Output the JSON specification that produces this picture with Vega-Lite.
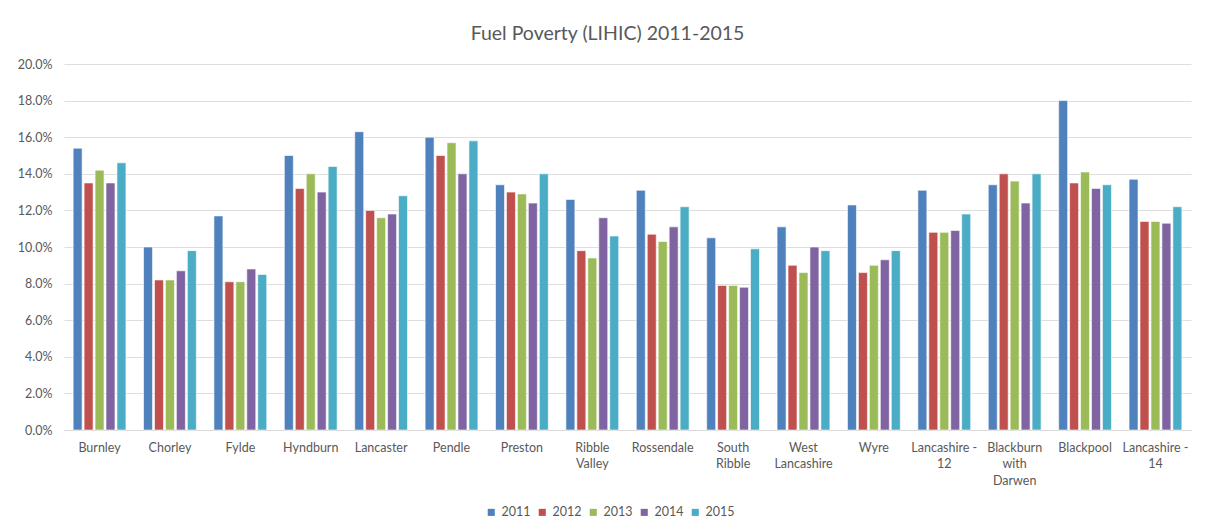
{
  "$schema": "https://vega.github.io/schema/vega-lite/v6.json",
  "autosize": "none",
  "width": 1127,
  "height": 366,
  "padding": {"left": 64, "top": 64, "right": 16, "bottom": 99},
  "background": "white",
  "title": {
    "text": "Fuel Poverty (LIHIC) 2011-2015",
    "font": "Lato",
    "fontSize": 19.5,
    "fontWeight": "normal",
    "color": "#595959",
    "anchor": "middle",
    "dx": -20,
    "offset": 14
  },
  "data": {
    "values": [
      {"area": "Burnley", "year": "2011", "rate": 0.154},
      {"area": "Burnley", "year": "2012", "rate": 0.135},
      {"area": "Burnley", "year": "2013", "rate": 0.142},
      {"area": "Burnley", "year": "2014", "rate": 0.135},
      {"area": "Burnley", "year": "2015", "rate": 0.146},
      {"area": "Chorley", "year": "2011", "rate": 0.100},
      {"area": "Chorley", "year": "2012", "rate": 0.082},
      {"area": "Chorley", "year": "2013", "rate": 0.082},
      {"area": "Chorley", "year": "2014", "rate": 0.087},
      {"area": "Chorley", "year": "2015", "rate": 0.098},
      {"area": "Fylde", "year": "2011", "rate": 0.117},
      {"area": "Fylde", "year": "2012", "rate": 0.081},
      {"area": "Fylde", "year": "2013", "rate": 0.081},
      {"area": "Fylde", "year": "2014", "rate": 0.088},
      {"area": "Fylde", "year": "2015", "rate": 0.085},
      {"area": "Hyndburn", "year": "2011", "rate": 0.150},
      {"area": "Hyndburn", "year": "2012", "rate": 0.132},
      {"area": "Hyndburn", "year": "2013", "rate": 0.140},
      {"area": "Hyndburn", "year": "2014", "rate": 0.130},
      {"area": "Hyndburn", "year": "2015", "rate": 0.144},
      {"area": "Lancaster", "year": "2011", "rate": 0.163},
      {"area": "Lancaster", "year": "2012", "rate": 0.120},
      {"area": "Lancaster", "year": "2013", "rate": 0.116},
      {"area": "Lancaster", "year": "2014", "rate": 0.118},
      {"area": "Lancaster", "year": "2015", "rate": 0.128},
      {"area": "Pendle", "year": "2011", "rate": 0.160},
      {"area": "Pendle", "year": "2012", "rate": 0.150},
      {"area": "Pendle", "year": "2013", "rate": 0.157},
      {"area": "Pendle", "year": "2014", "rate": 0.140},
      {"area": "Pendle", "year": "2015", "rate": 0.158},
      {"area": "Preston", "year": "2011", "rate": 0.134},
      {"area": "Preston", "year": "2012", "rate": 0.130},
      {"area": "Preston", "year": "2013", "rate": 0.129},
      {"area": "Preston", "year": "2014", "rate": 0.124},
      {"area": "Preston", "year": "2015", "rate": 0.140},
      {"area": "Ribble Valley", "year": "2011", "rate": 0.126},
      {"area": "Ribble Valley", "year": "2012", "rate": 0.098},
      {"area": "Ribble Valley", "year": "2013", "rate": 0.094},
      {"area": "Ribble Valley", "year": "2014", "rate": 0.116},
      {"area": "Ribble Valley", "year": "2015", "rate": 0.106},
      {"area": "Rossendale", "year": "2011", "rate": 0.131},
      {"area": "Rossendale", "year": "2012", "rate": 0.107},
      {"area": "Rossendale", "year": "2013", "rate": 0.103},
      {"area": "Rossendale", "year": "2014", "rate": 0.111},
      {"area": "Rossendale", "year": "2015", "rate": 0.122},
      {"area": "South Ribble", "year": "2011", "rate": 0.105},
      {"area": "South Ribble", "year": "2012", "rate": 0.079},
      {"area": "South Ribble", "year": "2013", "rate": 0.079},
      {"area": "South Ribble", "year": "2014", "rate": 0.078},
      {"area": "South Ribble", "year": "2015", "rate": 0.099},
      {"area": "West Lancashire", "year": "2011", "rate": 0.111},
      {"area": "West Lancashire", "year": "2012", "rate": 0.090},
      {"area": "West Lancashire", "year": "2013", "rate": 0.086},
      {"area": "West Lancashire", "year": "2014", "rate": 0.100},
      {"area": "West Lancashire", "year": "2015", "rate": 0.098},
      {"area": "Wyre", "year": "2011", "rate": 0.123},
      {"area": "Wyre", "year": "2012", "rate": 0.086},
      {"area": "Wyre", "year": "2013", "rate": 0.090},
      {"area": "Wyre", "year": "2014", "rate": 0.093},
      {"area": "Wyre", "year": "2015", "rate": 0.098},
      {"area": "Lancashire - 12", "year": "2011", "rate": 0.131},
      {"area": "Lancashire - 12", "year": "2012", "rate": 0.108},
      {"area": "Lancashire - 12", "year": "2013", "rate": 0.108},
      {"area": "Lancashire - 12", "year": "2014", "rate": 0.109},
      {"area": "Lancashire - 12", "year": "2015", "rate": 0.118},
      {"area": "Blackburn with Darwen", "year": "2011", "rate": 0.134},
      {"area": "Blackburn with Darwen", "year": "2012", "rate": 0.140},
      {"area": "Blackburn with Darwen", "year": "2013", "rate": 0.136},
      {"area": "Blackburn with Darwen", "year": "2014", "rate": 0.124},
      {"area": "Blackburn with Darwen", "year": "2015", "rate": 0.140},
      {"area": "Blackpool", "year": "2011", "rate": 0.180},
      {"area": "Blackpool", "year": "2012", "rate": 0.135},
      {"area": "Blackpool", "year": "2013", "rate": 0.141},
      {"area": "Blackpool", "year": "2014", "rate": 0.132},
      {"area": "Blackpool", "year": "2015", "rate": 0.134},
      {"area": "Lancashire - 14", "year": "2011", "rate": 0.137},
      {"area": "Lancashire - 14", "year": "2012", "rate": 0.114},
      {"area": "Lancashire - 14", "year": "2013", "rate": 0.114},
      {"area": "Lancashire - 14", "year": "2014", "rate": 0.113},
      {"area": "Lancashire - 14", "year": "2015", "rate": 0.122}
    ]
  },
  "mark": {"type": "bar", "stroke": "white", "strokeWidth": 0.6},
  "encoding": {
    "x": {
      "field": "area",
      "type": "nominal",
      "sort": null,
      "scale": {"paddingInner": 0.25, "paddingOuter": 0.13},
      "axis": {
        "title": null,
        "labelAngle": 0,
        "ticks": false,
        "domainColor": "#D9D9D9",
        "domainWidth": 1,
        "labelPadding": 11,
        "labelBaseline": "top",
        "labelLineHeight": 16.5,
        "labelExpr": "datum.label == 'Blackburn with Darwen' ? ['Blackburn', 'with', 'Darwen'] : indexof(datum.label, ' - ') > 0 ? split(replace(datum.label, ' - ', ' -~'), '~') : split(datum.label, ' ')"
      }
    },
    "xOffset": {
      "field": "year",
      "type": "nominal",
      "scale": {"paddingInner": 0.18, "paddingOuter": 0}
    },
    "y": {
      "field": "rate",
      "type": "quantitative",
      "scale": {"domain": [0, 0.2], "nice": false},
      "axis": {
        "title": null,
        "values": [0, 0.02, 0.04, 0.06, 0.08, 0.1, 0.12, 0.14, 0.16, 0.18, 0.2],
        "format": ".1%",
        "domain": false,
        "ticks": false,
        "labelPadding": 12,
        "gridColor": "#DEDEDE",
        "gridWidth": 1
      }
    },
    "color": {
      "field": "year",
      "type": "nominal",
      "scale": {
        "domain": ["2011", "2012", "2013", "2014", "2015"],
        "range": ["#4F81BD", "#C0504D", "#9BBB59", "#8064A2", "#4BACC6"]
      },
      "legend": {
        "title": null,
        "orient": "none",
        "direction": "horizontal",
        "legendX": 421,
        "legendY": 442,
        "symbolType": "square",
        "symbolSize": 50,
        "symbolStrokeWidth": 0,
        "symbolOffset": 0,
        "labelOffset": 4,
        "columnPadding": 5,
        "labelFontSize": 12.5
      }
    }
  },
  "config": {
    "font": "Lato",
    "view": {"stroke": null},
    "axis": {
      "labelFont": "Lato",
      "labelFontSize": 12.5,
      "labelColor": "#595959"
    },
    "legend": {
      "labelFont": "Lato",
      "labelColor": "#595959"
    }
  }
}
